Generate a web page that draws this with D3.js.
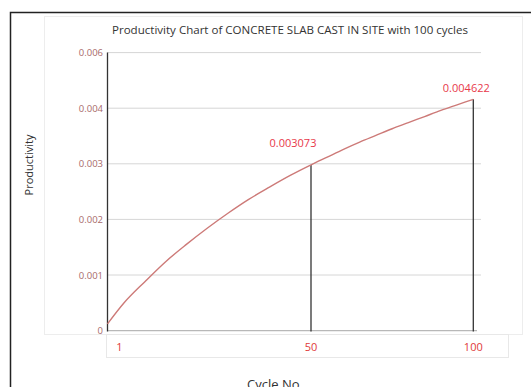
<!DOCTYPE html>
<html>
<head>
<meta charset="utf-8">
<script src="https://cdn.jsdelivr.net/npm/d3@7"></script>
<style>
  html, body { margin: 0; background: #fff; overflow: hidden; }
  svg { display: block; font-family: "Open Sans", "Liberation Sans", sans-serif; }
</style>
</head>
<body>
<script>
// cycle numbers and productivity
const cycles = [1, 5, 10, 15, 20, 25, 30, 35, 40, 45, 50, 55, 60, 65, 70, 75, 80, 85, 90, 95, 100];
const productivity = [0.00012, 0.00050, 0.00088, 0.00124, 0.00155, 0.00184, 0.00211, 0.00236, 0.00258, 0.00279,
  0.00298, 0.00312, 0.00326, 0.00339, 0.00351, 0.00363, 0.00374, 0.00385, 0.00396, 0.00406, 0.00416];

// marked points (drop lines + labels)
const markedCycles = [50, 100];
const markedLabels = ["0.003073", "0.004622"];

// axis ticks as printed on the chart
const yTickValues = [0, 0.001, 0.002, 0.003, 0.004, 0.005];
const yTickLabels = ["0", "0.001", "0.002", "0.003", "0.004", "0.006"];
const xTickValues = [1, 50, 100];

const W = 531, H = 387;

const svg = d3.select("body").append("svg")
  .attr("width", W)
  .attr("height", H);

// outer frame: only top and left edges are inside the picture
svg.append("path")
  .attr("d", `M10.5,${H} V12.5 H${W}`)
  .attr("fill", "none")
  .attr("stroke", "#222")
  .attr("stroke-width", 1.5);

// faint chart-area box
svg.append("rect")
  .attr("x", 44.5).attr("y", 16.5)
  .attr("width", 478).attr("height", 318)
  .attr("fill", "none")
  .attr("stroke", "#ededed");

// faint box round the x labels
svg.append("rect")
  .attr("x", 106.5).attr("y", 334.5)
  .attr("width", 402).attr("height", 23)
  .attr("fill", "#fff")
  .attr("stroke", "#e8e8e8");

const x = d3.scaleLinear()
  .domain([1, 50, 100])
  .range([107.5, 311, 473.3]);

const y = d3.scaleLinear()
  .domain([0, 0.005])
  .range([330.6, 52.6]);

const gridRight = 481;

// gridlines
svg.append("g")
  .selectAll("line")
  .data(yTickValues.slice(1))
  .join("line")
  .attr("x1", x(1))
  .attr("x2", gridRight)
  .attr("y1", d => y(d))
  .attr("y2", d => y(d))
  .attr("stroke", "#d6d6d6")
  .attr("stroke-width", 1);

// x axis baseline
svg.append("line")
  .attr("x1", x(1)).attr("x2", 477)
  .attr("y1", y(0)).attr("y2", y(0))
  .attr("stroke", "#b8b8b8")
  .attr("stroke-width", 1.2);

// y axis line
svg.append("line")
  .attr("x1", x(1)).attr("x2", x(1))
  .attr("y1", y(0.005)).attr("y2", y(0) + 1)
  .attr("stroke", "#333")
  .attr("stroke-width", 1.3);

// y tick labels
const yAxis = d3.axisLeft(y)
  .tickValues(yTickValues)
  .tickSize(0)
  .tickPadding(0)
  .tickFormat((d, i) => yTickLabels[i]);

const yAxisG = svg.append("g")
  .attr("transform", "translate(103,0)")
  .call(yAxis);
yAxisG.select(".domain").remove();
yAxisG.selectAll("text")
  .attr("fill", "#a86a6a")
  .style("font-size", "9.5px")
  .style("font-family", "'Open Sans', sans-serif");

// x tick labels
svg.append("g")
  .selectAll("text")
  .data(xTickValues)
  .join("text")
  .attr("x", (d, i) => i === 0 ? x(d) + 12 : x(d))
  .attr("y", 350.5)
  .attr("text-anchor", "middle")
  .attr("fill", "#e03a3a")
  .style("font-size", "11px")
  .text(d => d);

// drop lines
svg.append("g")
  .selectAll("line")
  .data(markedCycles)
  .join("line")
  .attr("x1", d => x(d))
  .attr("x2", d => x(d))
  .attr("y1", d => y(productivity[cycles.indexOf(d)]))
  .attr("y2", y(0) + 1)
  .attr("stroke", "#333")
  .attr("stroke-width", 1.3);

// curve
const line = d3.line()
  .x((d, i) => x(cycles[i]))
  .y(d => y(d))
  .curve(d3.curveMonotoneX);

svg.append("path")
  .datum(productivity)
  .attr("d", line)
  .attr("fill", "none")
  .attr("stroke", "#cd7a78")
  .attr("stroke-width", 1.4);

// point labels
svg.append("g")
  .selectAll("text")
  .data(markedCycles)
  .join("text")
  .attr("x", (d, i) => i === 0 ? x(d) - 18 : x(d) - 7)
  .attr("y", (d, i) => y(productivity[cycles.indexOf(d)]) - (i === 0 ? 18 : 7))
  .attr("text-anchor", "middle")
  .attr("fill", "#e8384a")
  .style("font-size", "11px")
  .text((d, i) => markedLabels[i]);

// title
svg.append("text")
  .attr("x", 290)
  .attr("y", 34)
  .attr("text-anchor", "middle")
  .attr("fill", "#333")
  .attr("textLength", 356)
  .attr("lengthAdjust", "spacingAndGlyphs")
  .style("font-size", "10.5px")
  .text("Productivity Chart of CONCRETE SLAB CAST IN SITE  with 100 cycles");

// axis titles
svg.append("text")
  .attr("transform", "translate(33,165) rotate(-90)")
  .attr("text-anchor", "middle")
  .attr("fill", "#333")
  .style("font-size", "11px")
  .text("Productivity");

svg.append("text")
  .attr("x", 275)
  .attr("y", 388.5)
  .attr("text-anchor", "middle")
  .attr("fill", "#333")
  .style("font-size", "13px")
  .text("Cycle No.");
</script>
</body>
</html>
